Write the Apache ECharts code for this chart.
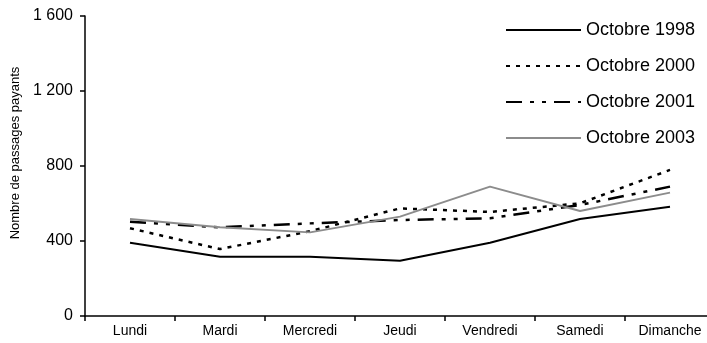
<!DOCTYPE html>
<html>
<head>
<meta charset="utf-8">
<script src="https://cdn.jsdelivr.net/npm/echarts@6/dist/echarts.min.js"></script>
<style>
  html, body { margin: 0; padding: 0; background: #fff; }
  #chart { width: 707px; height: 343px; }
</style>
</head>
<body>
<div id="chart"></div>
<script>
// Jours de la semaine
const jours = ['Lundi', 'Mardi', 'Mercredi', 'Jeudi', 'Vendredi', 'Samedi', 'Dimanche'];

// Nombre de passages payants par jour
const octobre1998 = [391, 316, 316, 295, 391, 517, 583];
const octobre2000 = [468, 357, 452, 574, 555, 601, 779];
const octobre2001 = [503, 473, 494, 512, 521, 592, 690];
const octobre2003 = [517, 473, 446, 530, 690, 560, 658];

const seriesNames = ['Octobre 1998', 'Octobre 2000', 'Octobre 2001', 'Octobre 2003'];

const chart = echarts.init(document.getElementById('chart'));

function fmtMilliers(v) {
  return String(v).replace(/\B(?=(\d{3})+(?!\d))/g, ' ');
}

const font = 'Liberation Sans, Arial, sans-serif';

chart.setOption({
  animation: false,
  backgroundColor: '#fff',
  grid: { left: 85, right: -8, top: 16, bottom: 27, containLabel: false, outerBoundsMode: 'none' },
  legend: {
    orient: 'vertical',
    left: 505,
    top: 21,
    padding: 0,
    itemWidth: 75,
    itemHeight: 14,
    itemGap: 18,
    itemStyle: { opacity: 0 },
    textStyle: { fontFamily: font, fontSize: 18, color: '#000' },
    data: seriesNames
  },
  xAxis: {
    type: 'category',
    data: jours,
    boundaryGap: true,
    axisLine: { lineStyle: { color: '#000', width: 1.5 } },
    axisTick: { show: true, alignWithLabel: false, length: 5, lineStyle: { color: '#000', width: 1.5 } },
    axisLabel: { fontFamily: font, fontSize: 14, color: '#000', margin: 8 },
    splitLine: { show: false }
  },
  yAxis: {
    type: 'value',
    min: 0,
    max: 1600,
    interval: 400,
    name: 'Nombre de passages payants',
    nameLocation: 'middle',
    nameGap: 60,
    nameTextStyle: { fontFamily: font, fontSize: 13, color: '#000', padding: [0, 0, 0, 26] },
    axisLine: { show: true, lineStyle: { color: '#000', width: 1.5 } },
    axisTick: { show: true, inside: false, length: 5, lineStyle: { color: '#000', width: 1.5 } },
    axisLabel: { fontFamily: font, fontSize: 16, color: '#000', margin: 12, formatter: fmtMilliers },
    splitLine: { show: false }
  },
  series: [
    {
      name: seriesNames[0], type: 'line', data: octobre1998, symbol: 'none',
      lineStyle: { color: '#000', width: 2 }, itemStyle: { color: '#000' }
    },
    {
      name: seriesNames[1], type: 'line', data: octobre2000, symbol: 'none',
      lineStyle: { color: '#000', width: 2.5, type: [4, 6] }, itemStyle: { color: '#000' }
    },
    {
      name: seriesNames[2], type: 'line', data: octobre2001, symbol: 'none',
      lineStyle: { color: '#000', width: 2.5, type: [16, 8, 4, 8, 4, 8] }, itemStyle: { color: '#000' }
    },
    {
      name: seriesNames[3], type: 'line', data: octobre2003, symbol: 'none',
      lineStyle: { color: '#8c8c8c', width: 2 }, itemStyle: { color: '#8c8c8c' }
    }
  ]
});
</script>
</body>
</html>
